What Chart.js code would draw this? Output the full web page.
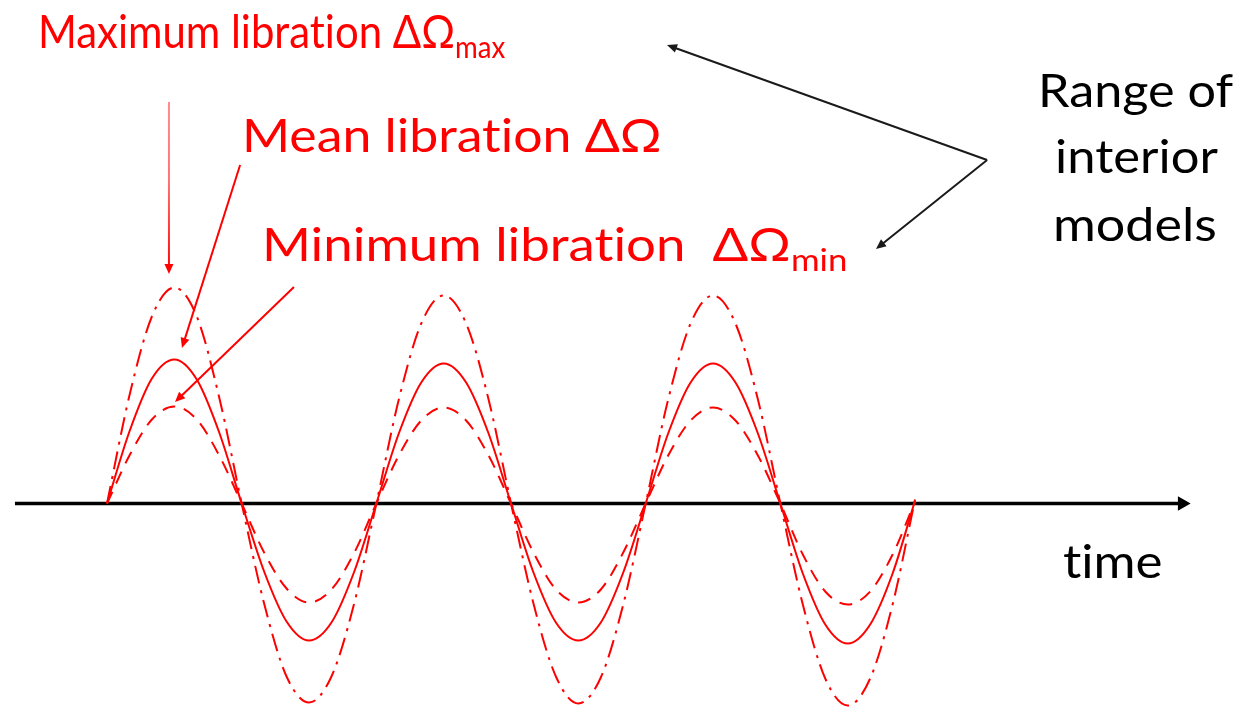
<!DOCTYPE html>
<html>
<head>
<meta charset="utf-8">
<script src="https://cdn.jsdelivr.net/npm/chart.js@4.4.0/dist/chart.umd.min.js"></script>
<style>
  html, body { margin: 0; padding: 0; background: #fff; }
  #wrap { position: relative; width: 1256px; height: 709px; overflow: hidden; }
  #libChart { position: absolute; left: 0; top: 0; }
  .lbl {
    position: absolute;
    white-space: pre;
    font-family: Lato, "Noto Sans", sans-serif;
    font-size: 47px;
    line-height: 1;
    font-variant-ligatures: none;
    transform-origin: 0 0;
  }
  .red { color: #ff0000; }
  .blk { color: #000; }
  .lbl .sub { font-size: 0.66em; position: relative; top: 10px; }
</style>
</head>
<body>
<div id="wrap">
  <canvas id="libChart" width="1256" height="709"></canvas>
  <div class="lbl red" data-x="38" data-base="48" data-w="467">Maximum libration ΔΩ<span class="sub">max</span></div>
  <div class="lbl red" data-x="242" data-base="152" data-w="420">Mean libration ΔΩ</div>
  <div class="lbl red" data-x="262" data-base="261" data-w="585">Minimum libration  ΔΩ<span class="sub">min</span></div>
  <div class="lbl blk" data-x="1038" data-base="107" data-w="195">Range of</div>
  <div class="lbl blk" data-x="1055" data-base="173" data-w="163">interior</div>
  <div class="lbl blk" data-x="1053" data-base="241" data-w="164">models</div>
  <div class="lbl blk" data-x="1063" data-base="578" data-w="100">time</div>
</div>
<script>
// ============================
// Data (time in 1/12 of a libration period, amplitude arbitrary)
// ============================
const timeSteps = [0, 1, 2, 3, 4, 5, 6, 7, 8, 9, 10, 11, 12, 13, 14, 15, 16, 17, 18,
                   19, 20, 21, 22, 23, 24, 25, 26, 27, 28, 29, 30, 31, 32, 33, 34, 35, 36];

const maxLibration = [0, 1.08, 1.87, 2.16, 1.87, 1.06, 0, -1.00, -1.73, -1.99, -1.73, -1.01,
                      0, 1.04, 1.80, 2.08, 1.80, 1.04, 0, -1.00, -1.73, -2.00, -1.74, -1.01,
                      0, 1.04, 1.80, 2.08, 1.80, 1.04, 0, -1.01, -1.75, -2.02, -1.75, -1.01, 0.04];

const meanLibration = [0, 0.72, 1.25, 1.44, 1.24, 0.71, 0, -0.68, -1.18, -1.37, -1.19, -0.69,
                       0, 0.70, 1.21, 1.40, 1.21, 0.70, 0, -0.69, -1.19, -1.37, -1.19, -0.69,
                       0, 0.70, 1.21, 1.40, 1.21, 0.70, 0, -0.70, -1.21, -1.40, -1.21, -0.70, 0.03];

const minLibration = [0, 0.48, 0.84, 0.97, 0.84, 0.48, 0, -0.49, -0.85, -0.99, -0.86, -0.50,
                      0, 0.48, 0.83, 0.96, 0.83, 0.48, 0, -0.49, -0.86, -0.99, -0.86, -0.49,
                      0, 0.48, 0.83, 0.96, 0.83, 0.48, 0, -0.51, -0.88, -1.01, -0.88, -0.51, 0.02];

// time axis extent (same units as timeSteps)
const axisTime = [-4.1, 47.9];

// annotation arrows, in data units [time, amplitude]
const pointerArrows = [
  { from: [2.76, 4.015], to: [2.76, 2.295], color: "#ff0000", fade: true },
  { from: [5.93, 3.385], to: [3.34, 1.555], color: "#ff0000" },
  { from: [8.33, 2.165], to: [3.03, 1.015], color: "#ff0000" },
  { from: [39.21, 3.435], to: [24.95, 4.585], color: "#1a1a1a" },
  { from: [39.21, 3.435], to: [34.26, 2.545], color: "#1a1a1a" }
];

const toXY = (xs, ys) => xs.map((t, i) => ({ x: t, y: ys[i] }));

// ============================
// Arrow plugin
// ============================
const arrowPlugin = {
  id: "pointerArrows",
  afterDatasetsDraw(chart) {
    const { ctx, scales: { x, y } } = chart;
    ctx.save();
    pointerArrows.forEach(a => {
      const x0 = x.getPixelForValue(a.from[0]), y0 = y.getPixelForValue(a.from[1]);
      const x1 = x.getPixelForValue(a.to[0]), y1 = y.getPixelForValue(a.to[1]);
      const ang = Math.atan2(y1 - y0, x1 - x0);
      let stroke = a.color;
      if (a.fade) {
        const g = ctx.createLinearGradient(x0, y0, x1, y1);
        g.addColorStop(0, "rgba(255,0,0,0.45)");
        g.addColorStop(0.45, "rgba(255,0,0,0.55)");
        g.addColorStop(1, "rgba(255,0,0,1)");
        stroke = g;
      }
      const len = 10, half = 4.5;
      ctx.strokeStyle = stroke;
      ctx.lineWidth = 2;
      ctx.beginPath();
      ctx.moveTo(x0, y0);
      ctx.lineTo(x1 - Math.cos(ang) * len * 0.8, y1 - Math.sin(ang) * len * 0.8);
      ctx.stroke();
      ctx.fillStyle = a.color;
      ctx.beginPath();
      ctx.moveTo(x1, y1);
      ctx.lineTo(x1 - Math.cos(ang) * len - Math.sin(ang) * half, y1 - Math.sin(ang) * len + Math.cos(ang) * half);
      ctx.lineTo(x1 - Math.cos(ang) * len + Math.sin(ang) * half, y1 - Math.sin(ang) * len - Math.cos(ang) * half);
      ctx.closePath();
      ctx.fill();
    });
    ctx.restore();
  }
};

// ============================
// Chart
// ============================
const ctx = document.getElementById("libChart").getContext("2d");

new Chart(ctx, {
  type: "line",
  data: {
    datasets: [
      // time axis
      {
        label: "time",
        data: toXY(axisTime, [0, 0]),
        borderColor: "#000",
        backgroundColor: "#000",
        borderWidth: 3.5,
        pointRadius: [0, 5],
        pointStyle: "triangle",
        rotation: 90,
        order: 4
      },
      // Maximum libration
      {
        label: "Maximum libration",
        data: toXY(timeSteps, maxLibration),
        borderColor: "#ff0000",
        borderWidth: 2,
        borderDash: [18, 7, 3, 7],
        pointRadius: 0,
        cubicInterpolationMode: "monotone",
        order: 3
      },
      // Mean libration
      {
        label: "Mean libration",
        data: toXY(timeSteps, meanLibration),
        borderColor: "#ff0000",
        borderWidth: 2,
        pointRadius: 0,
        cubicInterpolationMode: "monotone",
        order: 1
      },
      // Minimum libration
      {
        label: "Minimum libration",
        data: toXY(timeSteps, minLibration),
        borderColor: "#ff0000",
        borderWidth: 2,
        borderDash: [13, 9],
        pointRadius: 0,
        cubicInterpolationMode: "monotone",
        order: 2
      }
    ]
  },
  options: {
    responsive: false,
    animation: false,
    layout: { padding: 0, autoPadding: false },
    scales: {
      x: { type: "linear", display: false, min: -4.767, max: 51.19 },
      y: { type: "linear", display: false, min: -2.055, max: 5.035 }
    },
    plugins: {
      legend: { display: false },
      tooltip: { enabled: false }
    }
  },
  plugins: [arrowPlugin]
});

// ============================
// Place labels: baseline + width
// ============================
document.querySelectorAll(".lbl").forEach(el => {
  const probe = document.createElement("span");
  probe.style.cssText = "display:inline-block;width:0;height:0;vertical-align:baseline;";
  el.insertBefore(probe, el.firstChild);
  const baseOff = probe.offsetTop;
  const w = el.offsetWidth;
  el.style.left = el.dataset.x + "px";
  el.style.top = (parseFloat(el.dataset.base) - baseOff) + "px";
  el.style.transform = "scaleX(" + (parseFloat(el.dataset.w) / w) + ")";
});
</script>
</body>
</html>
